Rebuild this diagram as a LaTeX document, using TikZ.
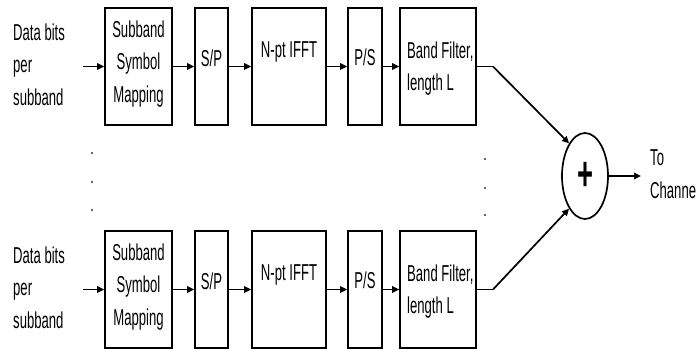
\documentclass[tikz,border=0pt]{standalone}
\usepackage{fontspec}
\newfontfamily\cf[FakeStretch=0.57]{Liberation Sans}
\usetikzlibrary{shapes.geometric,arrows.meta}
\begin{document}
\begin{tikzpicture}[x=1pt,y=-1pt,
  box/.style={draw,line width=1.7pt,inner sep=0pt,minimum height=117pt},
  txt/.style={font=\cf\fontsize{23}{32.5}\selectfont,inner sep=0pt},
  arr/.style={line width=1.7pt,-{Triangle[length=7pt,width=6.5pt]}},
  ln/.style={line width=1.7pt},
  dotm/.style={circle,fill=black!80,inner sep=0pt,minimum size=2.4pt}
]
\useasboundingbox (0,0) rectangle (697,350);
\foreach \r/\o in {1/0,2/223}{
  \node[txt,align=left,anchor=west] (din\r) at (13,64.5+\o) {Data bits\\per\\subband};
  \node[box,minimum width=67pt] (ssm\r) at (138.5,66.5+\o) {};
  \node[txt,align=center] (ssmt\r) at (138.5,64+\o) {Subband\\Symbol\\Mapping};
  \node[box,minimum width=33pt] (sp\r) at (211.5,66.5+\o) {};
  \node[txt] (spt\r) at (211.5,58+\o) {S/P};
  \node[box,minimum width=74pt] (fft\r) at (289,66.5+\o) {};
  \node[txt] (fftt\r) at (289,52+\o) {N-pt IFFT};
  \node[box,minimum width=34pt] (ps\r) at (365,66.5+\o) {};
  \node[txt] (pst\r) at (365,57+\o) {P/S};
  \node[box,minimum width=76pt] (bf\r) at (438,66.5+\o) {};
  \node[txt,align=left,anchor=west] (bft\r) at (407,68.5+\o) {Band Filter,\\length L};
  \coordinate (in\r) at (83,66.5+\o);
  \coordinate (k\r) at (493,66.5+\o);
  \draw[arr] (in\r) -- (ssm\r.west);
  \draw[arr] (ssm\r.east) -- (sp\r.west);
  \draw[arr] (sp\r.east) -- (fft\r.west);
  \draw[arr] (fft\r.east) -- (ps\r.west);
  \draw[arr] (ps\r.east) -- (bf\r.west);
  \draw[ln] (bf\r.east) -- (k\r);
}
\node[draw,ellipse,line width=1.7pt,minimum width=46pt,minimum height=86pt,inner sep=0pt] (sum) at (585,176) {};
\node[font=\cf\bfseries\fontsize{48}{48}\selectfont,inner sep=0pt] (plus) at (sum.center) {+};
\draw[arr] (k1) -- (sum.116);
\draw[arr] (k2) -- (sum.244);
\coordinate (outp) at (641,176);
\draw[arr] (sum.east) -- (outp);
\node[txt,anchor=west] (to) at (650,158) {To};
\node[txt,anchor=west] (ch) at (650,190) {Channe};
\node[dotm] (dl1) at (92,153) {};
\node[dotm] (dl2) at (92,182) {};
\node[dotm] (dl3) at (92,210) {};
\node[dotm] (dr1) at (485,159) {};
\node[dotm] (dr2) at (485,188) {};
\node[dotm] (dr3) at (485,215) {};
\end{tikzpicture}
\end{document}
